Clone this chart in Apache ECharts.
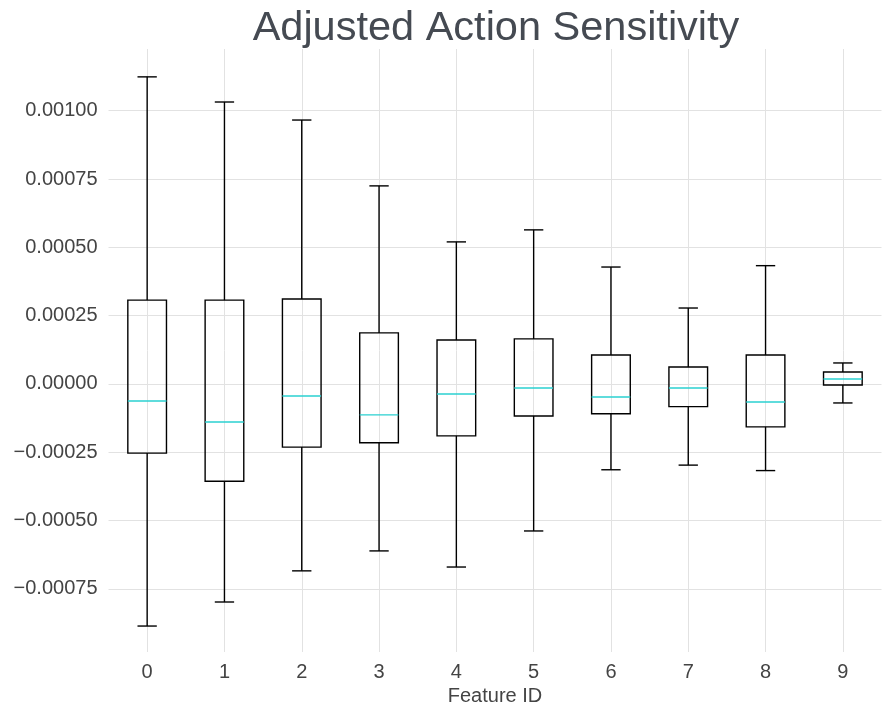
<!DOCTYPE html>
<html>
<head>
<meta charset="utf-8">
<script src="https://cdn.jsdelivr.net/npm/echarts@6/dist/echarts.min.js"></script>
<style>
html, body { margin: 0; padding: 0; background: #fff; }
#chart_1 { width: 892px; height: 715px; }
</style>
</head>
<body>
<div id="chart_1"></div>
<script>
// feature ids on the x axis
var featureIds = ['0', '1', '2', '3', '4', '5', '6', '7', '8', '9'];

// box statistics
var whiskerLow = [-0.000886, -0.000798, -0.000684, -0.000611, -0.000670, -0.000538, -0.000314, -0.000297, -0.000317, -0.0000695];
var q1Data = [-0.000253, -0.000356, -0.000231, -0.000215, -0.000190, -0.000117, -0.000109, -0.0000831, -0.000157, -0.0000037];
var medianData = [-0.0000622, -0.000139, -0.0000439, -0.000113, -0.0000366, -0.0000146, -0.0000476, -0.0000146, -0.0000659, 0.0000183];
var q3Data = [0.000307, 0.000307, 0.000311, 0.000187, 0.000161, 0.000165, 0.000106, 0.0000622, 0.000106, 0.0000439];
var whiskerHigh = [0.001124, 0.001032, 0.000966, 0.000725, 0.000520, 0.000564, 0.000428, 0.000278, 0.000433, 0.0000769];

// y tick labels
var yTicks = [-0.00075, -0.0005, -0.00025, 0, 0.00025, 0.0005, 0.00075, 0.001];

var boxData = [];
for (var i = 0; i < featureIds.length; i++) {
	boxData.push([i, whiskerLow[i], q1Data[i], medianData[i], q3Data[i], whiskerHigh[i]]);
}

var lineStyle = { stroke: '#000', lineWidth: 1.4, fill: null };

//画一个箱子
function renderBox(params, api) {
	var x = api.value(0);
	var pLow = api.coord([x, api.value(1)]);
	var pQ1 = api.coord([x, api.value(2)]);
	var pMed = api.coord([x, api.value(3)]);
	var pQ3 = api.coord([x, api.value(4)]);
	var pHigh = api.coord([x, api.value(5)]);
	var band = api.size([1, 0])[0];
	var half = band * 0.25;
	var cap = band * 0.125;
	var cx = pQ1[0];
	return {
		type: 'group',
		children: [
			{ type: 'line', shape: { x1: cx, y1: pLow[1], x2: cx, y2: pQ1[1] }, style: lineStyle },
			{ type: 'line', shape: { x1: cx, y1: pQ3[1], x2: cx, y2: pHigh[1] }, style: lineStyle },
			{ type: 'line', shape: { x1: cx - cap, y1: pLow[1], x2: cx + cap, y2: pLow[1] }, style: lineStyle },
			{ type: 'line', shape: { x1: cx - cap, y1: pHigh[1], x2: cx + cap, y2: pHigh[1] }, style: lineStyle },
			{ type: 'rect', shape: { x: cx - half, y: pQ3[1], width: half * 2, height: pQ1[1] - pQ3[1] }, style: lineStyle },
			{ type: 'line', shape: { x1: cx - half, y1: pMed[1], x2: cx + half, y2: pMed[1] }, style: { stroke: '#2ad0d0', lineWidth: 1.4 } }
		]
	};
}

var option = {
	animation: false,
	title: {
		text: 'Adjusted Action Sensitivity',
		left: 491,
		textAlign: 'center',
		top: 3,
		textStyle: { fontFamily: 'Liberation Sans', fontSize: 41.5, fontWeight: 'normal', color: '#454a52' }
	},
	grid: { left: 108.5, right: 10.5, top: 49, bottom: 63 },
	xAxis: {
		type: 'category',
		data: featureIds,
		name: 'Feature ID',
		nameLocation: 'middle',
		nameGap: 34,
		nameTextStyle: { fontFamily: 'Liberation Sans', fontSize: 20, color: '#444' },
		axisLine: { show: false },
		axisTick: { show: false, alignWithLabel: true },
		axisLabel: { fontFamily: 'Liberation Sans', fontSize: 20, color: '#444', margin: 10 },
		splitLine: { show: true, alignWithLabel: true, lineStyle: { color: '#e2e2e2', width: 1 } }
	},
	yAxis: {
		type: 'value',
		min: -0.000981,
		max: 0.001226,
		axisLine: { show: false },
		axisTick: { show: false, customValues: yTicks },
		axisLabel: {
			customValues: yTicks,
			fontFamily: 'Liberation Sans',
			fontSize: 20,
			color: '#444',
			margin: 11,
			padding: [4, 0, 0, 0],
			formatter: function(v) {
				var s = Math.abs(v).toFixed(5);
				return v < 0 ? '\u2212' + s : s;
			}
		},
		splitLine: { show: true, lineStyle: { color: '#e2e2e2', width: 1 } }
	},
	series: [{
		type: 'custom',
		renderItem: renderBox,
		encode: { x: 0, y: [1, 2, 3, 4, 5] },
		data: boxData
	}]
};

var myChart = echarts.init(document.getElementById('chart_1'));
myChart.setOption(option);
</script>
</body>
</html>
